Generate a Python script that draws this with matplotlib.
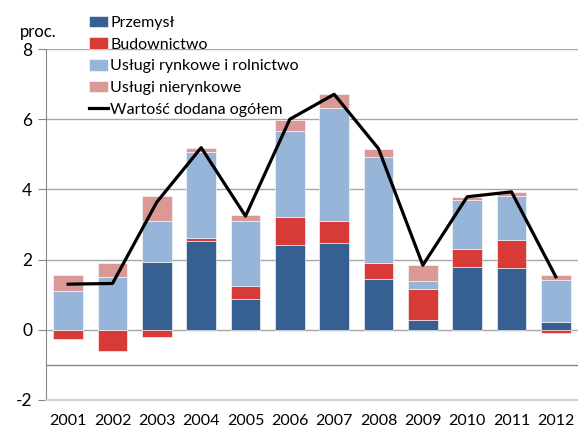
import numpy as np
import matplotlib
matplotlib.use('Agg')
import matplotlib.pyplot as plt

plt.rcParams['font.family'] = ['Lato', 'DejaVu Sans']

years = ['2001', '2002', '2003', '2004', '2005', '2006',
         '2007', '2008', '2009', '2010', '2011', '2012']

przemysl = [0.00, 0.00, 1.92, 2.54, 0.88, 2.43, 2.47, 1.45, 0.28, 1.78, 1.76, 0.22]
budownictwo = [-0.27, -0.61, -0.21, 0.08, 0.38, 0.78, 0.63, 0.44, 0.89, 0.53, 0.81, -0.08]
uslugi_rynkowe = [1.11, 1.50, 1.18, 2.45, 1.84, 2.46, 3.21, 3.04, 0.23, 1.39, 1.25, 1.19]
uslugi_nierynkowe = [0.44, 0.40, 0.71, 0.12, 0.16, 0.30, 0.40, 0.23, 0.46, 0.09, 0.11, 0.16]
wartosc_dodana = [1.30, 1.32, 3.64, 5.19, 3.24, 6.00, 6.71, 5.16, 1.84, 3.79, 3.93, 1.51]

series = [
    ('Przemysł', przemysl, '#366092'),
    ('Budownictwo', budownictwo, '#D83B37'),
    ('Usługi rynkowe i rolnictwo', uslugi_rynkowe, '#97B4D9'),
    ('Usługi nierynkowe', uslugi_nierynkowe, '#DA9896'),
]

fig = plt.figure(figsize=(5.78, 4.3), dpi=100)
ax = fig.add_axes([0.0796, 0.0698, 0.9204, 0.8162])

x = np.arange(len(years))
pos = np.zeros(len(years))
neg = np.zeros(len(years))
handles = []
for name, vals, col in series:
    v = np.array(vals)
    bottom = np.where(v >= 0, pos, neg)
    b = ax.bar(x, v, 0.67, bottom=bottom, color=col, label=name,
               edgecolor='white', linewidth=0.4, zorder=3)
    handles.append(b)
    pos = pos + np.where(v >= 0, v, 0)
    neg = neg + np.where(v < 0, v, 0)

ln, = ax.plot(x, wartosc_dodana, color='black', lw=2.3,
              label='Wartość dodana ogółem', zorder=4)
handles.append(ln)

ax.set_xlim(-0.5, 11.5)
ax.set_ylim(-2, 8)
ax.set_yticks([-2, 0, 2, 4, 6, 8])
ax.set_yticklabels(['-2', '0', '2', '4', '6', '8'])
ax.set_xticks(x)
ax.set_xticklabels(years)

for yv in [8, 6, 4, 2, 0]:
    ax.axhline(yv, color='#a6a6a6', lw=1, zorder=1)
ax.axhline(-1, color='#868686', lw=1, zorder=1)

for s in ['top', 'right']:
    ax.spines[s].set_visible(False)
ax.spines['left'].set_color('#868686')
ax.spines['bottom'].set_color('#d0d0d0')
ax.spines['bottom'].set_linewidth(1.5)
ax.tick_params(axis='y', length=6, color='#868686', labelsize=12.5, pad=4)
ax.tick_params(axis='x', length=0, labelsize=11.5, pad=10)

fig.text(0.035, 0.915, 'proc.', fontsize=12)

ax.legend(handles=handles, labels=[h.get_label() for h in handles],
          loc='upper left', bbox_to_anchor=(0.08, 1.095), frameon=False,
          fontsize=11.5, handlelength=1.2, handleheight=0.75, handletextpad=0.15,
          labelspacing=0.45, borderaxespad=0, borderpad=0)

fig.savefig('out.png', dpi=100)
